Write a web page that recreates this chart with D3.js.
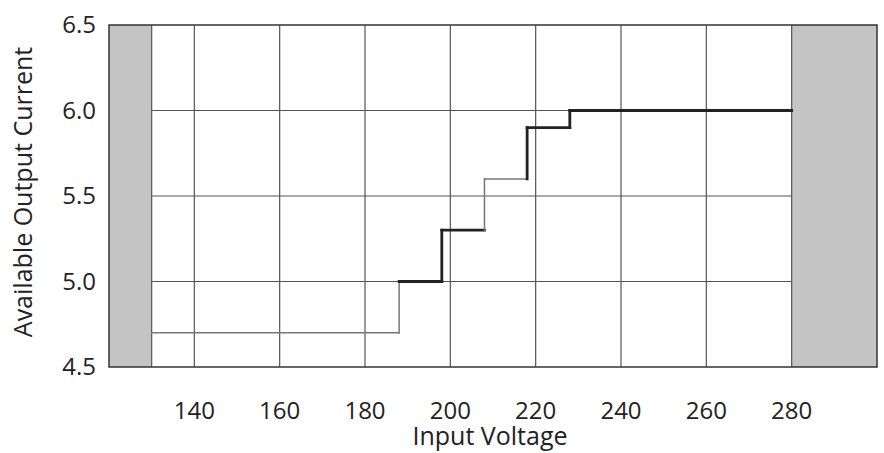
<!DOCTYPE html>
<html><head><meta charset="utf-8">
<script src="https://cdn.jsdelivr.net/npm/d3@7"></script>
<style>body{margin:0;background:#fff}text{font-family:"Open Sans",sans-serif;fill:#222}</style>
</head><body><div id="chart"></div>
<script>
var xTicks = [140, 160, 180, 200, 220, 240, 260, 280];
var yTicks = [4.5, 5.0, 5.5, 6.0, 6.5];
var stepX = [130, 188, 198, 208, 218, 228, 280];
var stepY = [4.7, 5.0, 5.3, 5.6, 5.9, 6.0];
var grayBands = [[120, 130], [280, 300]];

var svg = d3.select('#chart').append('svg').attr('width', 884).attr('height', 453);
var x = d3.scaleLinear().domain([120, 300]).range([109, 877]);
var y = d3.scaleLinear().domain([4.5, 6.5]).range([367, 25]);

svg.selectAll('rect.band').data(grayBands).enter().append('rect')
    .attr('x', function(d) { return x(d[0]); })
    .attr('y', y(6.5))
    .attr('width', function(d) { return x(d[1]) - x(d[0]); })
    .attr('height', y(4.5) - y(6.5))
    .attr('fill', '#c4c4c4');

svg.selectAll('line.v').data(xTicks).enter().append('line')
    .attr('x1', function(d) { return x(d); }).attr('x2', function(d) { return x(d); })
    .attr('y1', y(6.5)).attr('y2', y(4.5))
    .attr('stroke', '#555').attr('stroke-width', 1.2);
svg.append('line').attr('x1', x(130)).attr('x2', x(130)).attr('y1', y(6.5)).attr('y2', y(4.5))
    .attr('stroke', '#555').attr('stroke-width', 1.2);
svg.selectAll('line.h').data(yTicks.slice(1, 4)).enter().append('line')
    .attr('x1', x(130)).attr('x2', x(280))
    .attr('y1', function(d) { return y(d); }).attr('y2', function(d) { return y(d); })
    .attr('stroke', '#555').attr('stroke-width', 1.2);
svg.append('rect').attr('x', x(120)).attr('y', y(6.5))
    .attr('width', x(300) - x(120)).attr('height', y(4.5) - y(6.5))
    .attr('fill', 'none').attr('stroke', '#333').attr('stroke-width', 1.5);

// step line, segment by segment
var segs = [];
stepY.forEach(function(v, i) {
    if (i > 0) segs.push([[stepX[i], stepY[i - 1]], [stepX[i], v]]);
    segs.push([[stepX[i], v], [stepX[i + 1], v]]);
});
var thin = [0, 1, 5, 6];
svg.selectAll('line.step').data(segs).enter().append('line')
    .attr('x1', function(d) { return x(d[0][0]); }).attr('y1', function(d) { return y(d[0][1]); })
    .attr('x2', function(d) { return x(d[1][0]); }).attr('y2', function(d) { return y(d[1][1]); })
    .attr('stroke', function(d, i) { return thin.indexOf(i) >= 0 ? '#777' : '#222'; })
    .attr('stroke-width', function(d, i) { return thin.indexOf(i) >= 0 ? 1.5 : 2.8; })
    .attr('stroke-linecap', 'square');

svg.selectAll('text.xt').data(xTicks).enter().append('text')
    .attr('x', function(d) { return x(d); }).attr('y', 419)
    .attr('text-anchor', 'middle').attr('font-size', 24).text(function(d) { return d; });
svg.selectAll('text.yt').data(yTicks).enter().append('text')
    .attr('x', 96).attr('y', function(d) { return y(d) + 8; })
    .attr('text-anchor', 'end').attr('font-size', 24).text(function(d) { return d.toFixed(1); });
svg.append('text').attr('x', 490).attr('y', 445).attr('text-anchor', 'middle')
    .attr('font-size', 25).text('Input Voltage');
svg.append('text').attr('transform', 'translate(32,' + 192 + ') rotate(-90)')
    .attr('text-anchor', 'middle').attr('font-size', 25).text('Available Output Current');
</script></body></html>
